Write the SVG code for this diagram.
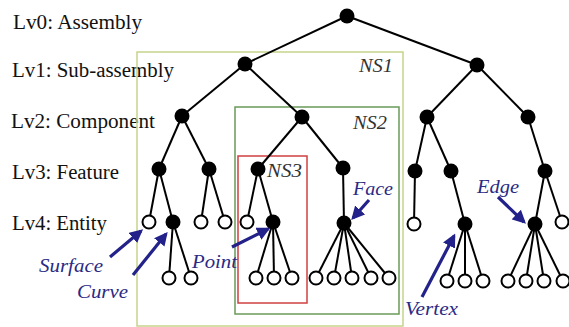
<svg xmlns="http://www.w3.org/2000/svg" width="569" height="327" viewBox="0 0 569 327" font-family="Liberation Serif, DejaVu Serif, serif">
<defs>
<style>
.lv{font-size:20px;fill:#111}
.ns{font-size:18px;font-style:italic;fill:#333}
.bl{font-size:19px;font-style:italic;fill:#2a2a85}
.e line{stroke:#000;stroke-width:2}
.f{fill:#000}
.o{fill:#fff;stroke:#000;stroke-width:2}
.arr{stroke:#22228a;stroke-width:3.2;fill:none;marker-end:url(#ah)}
</style>
<marker id="ah" viewBox="0 0 10 10" refX="8" refY="5" markerWidth="4.2" markerHeight="4.2" orient="auto" markerUnits="strokeWidth">
<path d="M0,0 L10,5 L0,10 z" fill="#22228a"/>
</marker>
</defs>
<rect width="569" height="327" fill="#fff"/>
<g id="labels">
<text class="lv" x="13" y="29" textLength="129" lengthAdjust="spacingAndGlyphs">Lv0: Assembly</text>
<text class="lv" x="12" y="77" textLength="162" lengthAdjust="spacingAndGlyphs">Lv1: Sub-assembly</text>
<text class="lv" x="11" y="128" textLength="144" lengthAdjust="spacingAndGlyphs">Lv2: Component</text>
<text class="lv" x="12" y="179" textLength="107" lengthAdjust="spacingAndGlyphs">Lv3: Feature</text>
<text class="lv" x="12" y="230" textLength="95" lengthAdjust="spacingAndGlyphs">Lv4: Entity</text>
</g>
<g id="NS1"><rect x="137" y="52" width="266" height="274" fill="none" stroke="#c5d58a" stroke-width="1.5"/>
<text class="ns" x="359" y="72" textLength="34" lengthAdjust="spacingAndGlyphs">NS1</text></g>
<g id="NS2"><rect x="235" y="107" width="164" height="207" fill="none" stroke="#6a9a5a" stroke-width="1.5"/>
<text class="ns" x="353" y="129" textLength="34" lengthAdjust="spacingAndGlyphs">NS2</text></g>
<g id="NS3"><rect x="238" y="156" width="69" height="147" fill="none" stroke="#d04040" stroke-width="1.5"/>
<text class="ns" x="267" y="177" textLength="35" lengthAdjust="spacingAndGlyphs">NS3</text></g>
<g id="connectors" class="e">
<line x1="347" y1="16" x2="245" y2="64"/><line x1="347" y1="16" x2="477" y2="65"/>
<line x1="245" y1="64" x2="182" y2="116"/><line x1="245" y1="64" x2="302" y2="117"/>
<line x1="477" y1="65" x2="427" y2="117"/><line x1="477" y1="65" x2="528" y2="117"/>
<line x1="182" y1="116" x2="159" y2="169"/><line x1="182" y1="116" x2="209" y2="169"/>
<line x1="302" y1="117" x2="258" y2="169"/><line x1="302" y1="117" x2="343" y2="168"/>
<line x1="427" y1="117" x2="415" y2="171"/><line x1="427" y1="117" x2="451" y2="171"/>
<line x1="528" y1="117" x2="545" y2="171"/>
<line x1="159" y1="169" x2="149" y2="222"/><line x1="159" y1="169" x2="173" y2="222"/>
<line x1="209" y1="169" x2="201" y2="222"/><line x1="209" y1="169" x2="225" y2="222"/>
<line x1="258" y1="169" x2="247" y2="222"/><line x1="258" y1="169" x2="273" y2="222"/>
<line x1="343" y1="168" x2="344" y2="223"/>
<line x1="415" y1="171" x2="414" y2="224"/>
<line x1="451" y1="171" x2="465" y2="224"/>
<line x1="545" y1="171" x2="535" y2="224"/><line x1="545" y1="171" x2="562" y2="222"/>
<line x1="173" y1="222" x2="169" y2="278"/><line x1="173" y1="222" x2="191" y2="278"/>
<line x1="273" y1="222" x2="256" y2="278"/><line x1="273" y1="222" x2="274" y2="278"/><line x1="273" y1="222" x2="292" y2="278"/>
<line x1="344" y1="223" x2="316" y2="278"/><line x1="344" y1="223" x2="334" y2="278"/><line x1="344" y1="223" x2="352" y2="278"/><line x1="344" y1="223" x2="371" y2="278"/><line x1="344" y1="223" x2="389" y2="278"/>
<line x1="465" y1="224" x2="447" y2="281"/><line x1="465" y1="224" x2="465" y2="281"/><line x1="465" y1="224" x2="483" y2="281"/>
<line x1="535" y1="224" x2="508" y2="281"/><line x1="535" y1="224" x2="526" y2="281"/><line x1="535" y1="224" x2="544" y2="281"/><line x1="535" y1="224" x2="563" y2="281"/>
</g>
<g id="nodes">
<g id="n0"><circle class="f" cx="347" cy="16" r="7.5"/></g>
<g id="n1a"><circle class="f" cx="245" cy="64" r="7.5"/></g>
<g id="n1b"><circle class="f" cx="477" cy="65" r="7.5"/></g>
<g id="n2a"><circle class="f" cx="182" cy="116" r="7.5"/></g>
<g id="n2b"><circle class="f" cx="302" cy="117" r="7.5"/></g>
<g id="n2c"><circle class="f" cx="427" cy="117" r="7.5"/></g>
<g id="n2d"><circle class="f" cx="528" cy="117" r="7.5"/></g>
<g id="n3a"><circle class="f" cx="159" cy="169" r="7.5"/></g>
<g id="n3b"><circle class="f" cx="209" cy="169" r="7.5"/></g>
<g id="n3c"><circle class="f" cx="258" cy="169" r="7.5"/></g>
<g id="n3d"><circle class="f" cx="343" cy="168" r="7.5"/></g>
<g id="n3e"><circle class="f" cx="415" cy="171" r="7.5"/></g>
<g id="n3f"><circle class="f" cx="451" cy="171" r="7.5"/></g>
<g id="n3g"><circle class="f" cx="545" cy="171" r="7.5"/></g>
<g id="n4a"><circle class="o" cx="149" cy="222" r="6.5"/></g>
<g id="n4b"><circle class="f" cx="173" cy="222" r="7.5"/></g>
<g id="n4c"><circle class="o" cx="201" cy="222" r="6.5"/></g>
<g id="n4d"><circle class="o" cx="225" cy="222" r="6.5"/></g>
<g id="n4e"><circle class="o" cx="247" cy="222" r="6.5"/></g>
<g id="n4f"><circle class="f" cx="273" cy="222" r="7.5"/></g>
<g id="n4g"><circle class="f" cx="344" cy="223" r="7.5"/></g>
<g id="n4h"><circle class="o" cx="414" cy="224" r="6.5"/></g>
<g id="n4i"><circle class="f" cx="465" cy="224" r="7.5"/></g>
<g id="n4j"><circle class="f" cx="535" cy="224" r="7.5"/></g>
<g id="n4k"><circle class="o" cx="562" cy="222" r="6.5"/></g>
<g id="n5a"><circle class="o" cx="169" cy="278" r="6.5"/><circle class="o" cx="191" cy="278" r="6.5"/></g>
<g id="n5b"><circle class="o" cx="256" cy="278" r="6.5"/><circle class="o" cx="274" cy="278" r="6.5"/><circle class="o" cx="292" cy="278" r="6.5"/></g>
<g id="n5c"><circle class="o" cx="316" cy="278" r="6.5"/><circle class="o" cx="334" cy="278" r="6.5"/><circle class="o" cx="352" cy="278" r="6.5"/><circle class="o" cx="371" cy="278" r="6.5"/><circle class="o" cx="389" cy="278" r="6.5"/></g>
<g id="n5d"><circle class="o" cx="447" cy="281" r="6.5"/><circle class="o" cx="465" cy="281" r="6.5"/><circle class="o" cx="483" cy="281" r="6.5"/></g>
<g id="n5e"><circle class="o" cx="508" cy="281" r="6.5"/><circle class="o" cx="526" cy="281" r="6.5"/><circle class="o" cx="544" cy="281" r="6.5"/><circle class="o" cx="563" cy="281" r="6.5"/></g>
</g>
<g id="annotations">
<line class="arr" x1="110" y1="257" x2="141" y2="231"/>
<line class="arr" x1="133" y1="275" x2="166" y2="234"/>
<line class="arr" x1="232" y1="247" x2="268" y2="229"/>
<line class="arr" x1="369" y1="200" x2="353" y2="218"/>
<line class="arr" x1="498" y1="197" x2="524" y2="222"/>
<line class="arr" x1="422" y1="297" x2="454" y2="236"/>
<text class="bl" x="39" y="272" textLength="64" lengthAdjust="spacingAndGlyphs">Surface</text>
<text class="bl" x="77" y="298" textLength="51" lengthAdjust="spacingAndGlyphs">Curve</text>
<text class="bl" x="192" y="268" textLength="45" lengthAdjust="spacingAndGlyphs">Point</text>
<text class="bl" x="353" y="195" textLength="40" lengthAdjust="spacingAndGlyphs">Face</text>
<text class="bl" x="477" y="193" textLength="42" lengthAdjust="spacingAndGlyphs">Edge</text>
<text class="bl" x="405" y="315" textLength="53" lengthAdjust="spacingAndGlyphs">Vertex</text>
</g>
</svg>
